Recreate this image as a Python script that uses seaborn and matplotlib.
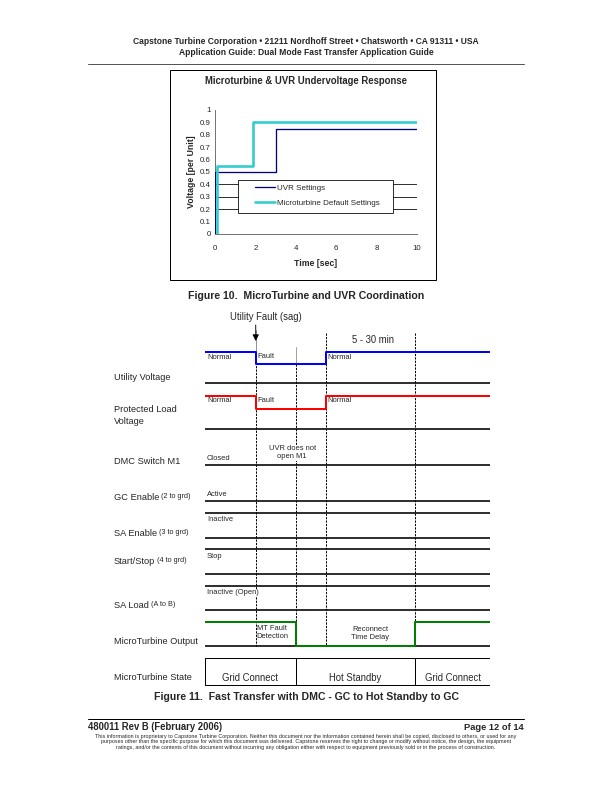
import matplotlib
matplotlib.use("Agg")
import matplotlib.pyplot as plt
import pandas as pd
import seaborn as sns
from matplotlib.patches import Rectangle

# ---- Figure 10 data: step responses (time in sec, voltage per unit)
uvr_time = [0.02, 0.02, 3.0, 3.0, 10.0]
uvr_volts = [0.0, 0.5, 0.5, 0.85, 0.85]
mt_time = [0.12, 0.12, 1.9, 1.9, 10.0]
mt_volts = [0.0, 0.55, 0.55, 0.9, 0.9]
series_names = ["UVR Settings", "Microturbine Default Settings"]
series_colors = ["#000080", "#33CCCC"]
grid_levels = [0.2, 0.3, 0.4]

# ---- Figure 11 timing data (schematic time units 0..10)
t_fault = 1.78
t_uvr = 3.18
t_restore = 4.24
t_reconnect = 7.37
t_end = 10.0
utility_t = [0, t_fault, t_restore, t_end]
utility_lvl = [1, 0, 1, 1]
load_t = [0, t_fault, t_restore, t_end]
load_lvl = [1, 0, 1, 1]
mtout_t = [0, t_uvr, t_reconnect, t_end]
mtout_lvl = [1, 0, 1, 1]
state_names = ["Grid Connect", "Hot Standby", "Grid Connect"]
state_edges = [0, t_uvr, t_reconnect, t_end]

row_labels = [("Utility Voltage", "", 377),
              ("Protected Load\nVoltage", "", 415.5),
              ("DMC Switch M1", "", 461),
              ("GC Enable", "(2 to grd)", 497),
              ("SA Enable", "(3 to grd)", 533),
              ("Start/Stop", "(4 to grd)", 561),
              ("SA Load", "(A to B)", 605),
              ("MicroTurbine Output", "", 642),
              ("MicroTurbine State", "", 678)]
# black rails of the diagram (page px)
rails = [383, 428.5, 465, 501, 513, 537.5, 549, 574, 585.5, 610, 646]

sns.set_style("white")
plt.rcParams["font.family"] = ["Liberation Sans", "DejaVu Sans"]

fig = plt.figure(figsize=(8.5, 11), dpi=72)
page = fig.add_axes([0, 0, 1, 1])
page.set_xlim(0, 612)
page.set_ylim(792, 0)
page.axis("off")

def fx(px):
    return px / 612.0

def fy(py):
    return 1 - py / 792.0

# header
page.text(306, 41.5, "Capstone Turbine Corporation \u2022 21211 Nordhoff Street \u2022 Chatsworth \u2022 CA 91311 \u2022 USA",
          ha="center", va="center", fontsize=8.5, fontweight="bold")
page.text(306, 52.5, "Application Guide: Dual Mode Fast Transfer Application Guide",
          ha="center", va="center", fontsize=8.5, fontweight="bold")
page.plot([88, 524], [64, 64], color="#555555", lw=1)

# ---- Figure 10 chart
page.add_patch(Rectangle((170, 70), 266, 210, fill=False, ec="black", lw=1))
page.text(306, 81.5, "Microturbine & UVR Undervoltage Response", ha="center", va="center",
          fontsize=9.5, fontweight="bold")
ax = fig.add_axes([fx(215), fy(234), fx(417) - fx(215), fy(110) - fy(234)])
for lvl in grid_levels:
    ax.axhline(lvl, color="black", lw=0.8, zorder=1)
df = pd.concat([
    pd.DataFrame({"t": uvr_time, "v": uvr_volts, "s": series_names[0]}),
    pd.DataFrame({"t": mt_time, "v": mt_volts, "s": series_names[1]}),
])
sns.lineplot(data=df[df.s == series_names[0]], x="t", y="v", sort=False, estimator=None,
             color=series_colors[0], lw=1.3, label=series_names[0], ax=ax, zorder=3)
sns.lineplot(data=df[df.s == series_names[1]], x="t", y="v", sort=False, estimator=None,
             color=series_colors[1], lw=2.6, label=series_names[1], ax=ax, zorder=3)
ax.set_xlim(0, 10)
ax.set_ylim(0, 1)
ax.set_xticks(range(0, 11, 2))
ax.set_yticks([i / 10 for i in range(11)])
ax.set_yticklabels(["0"] + ["0.%d" % i for i in range(1, 10)] + ["1"])
ax.tick_params(axis="both", labelsize=7.9, direction="out", length=2.5, width=0.8, color="#444444")
ax.tick_params(axis="y", pad=1.5)
ax.tick_params(axis="x", pad=9)
for s in ["top", "right"]:
    ax.spines[s].set_visible(False)
for s in ["left", "bottom"]:
    ax.spines[s].set_color("#666666")
    ax.spines[s].set_linewidth(0.9)
ax.set_xlabel("Time [sec]", fontsize=8.7, fontweight="bold", labelpad=6)
ax.set_ylabel("Voltage [per Unit]", fontsize=8.7, fontweight="bold", labelpad=4)
# legend box (Excel style) with a frameless legend inside
ax.add_patch(Rectangle((0.114, 0.169), 0.767, 0.266, transform=ax.transAxes, fc="white",
                       ec="black", lw=0.8, zorder=4))
leg = ax.legend(loc="center left", bbox_to_anchor=(0.198, 0.31), fontsize=8, frameon=False,
                handlelength=2.5, handletextpad=0.25, borderpad=0, borderaxespad=0,
                labelspacing=0.85)
leg.set_zorder(5)

page.text(306, 296, "Figure 10.  MicroTurbine and UVR Coordination", ha="center", va="center",
          fontsize=10.5, fontweight="bold")

# ---- Figure 11 timing diagram
td = fig.add_axes([fx(205), fy(690), fx(490) - fx(205), fy(300) - fy(690)])

for r in rails:
    td.plot([0, t_end], [r, r], color="black", lw=1.6, zorder=2)

def level_y(levels, hi, lo):
    return [hi if v else lo for v in levels]

sig = pd.DataFrame({"t": utility_t, "y": level_y(utility_lvl, 352.3, 364)})
sns.lineplot(data=sig, x="t", y="y", drawstyle="steps-post", estimator=None, sort=False,
             color="#0000FF", lw=2, ax=td, zorder=4)
sig = pd.DataFrame({"t": load_t, "y": level_y(load_lvl, 395.5, 408.5)})
sns.lineplot(data=sig, x="t", y="y", drawstyle="steps-post", estimator=None, sort=False,
             color="#FF0000", lw=2, ax=td, zorder=4)
sig = pd.DataFrame({"t": mtout_t, "y": level_y(mtout_lvl, 622.3, 645.5)})
sns.lineplot(data=sig, x="t", y="y", drawstyle="steps-post", estimator=None, sort=False,
             color="#008000", lw=2, ax=td, zorder=4)
td.set_xlim(0, t_end)
td.set_ylim(690, 300)
td.axis("off")

dash = (0, (2.2, 1.2))
td.plot([t_fault, t_fault], [330, 352], color="#888888", lw=0.9, zorder=1)
td.annotate("", xy=(t_fault, 343), xytext=(t_fault, 323),
            arrowprops=dict(arrowstyle="-|>", color="black", lw=0.9, mutation_scale=13))
td.plot([t_fault, t_fault], [352, 646], color="black", lw=1, ls=dash, zorder=1)
td.plot([t_uvr, t_uvr], [347, 364], color="#999999", lw=0.9, zorder=1)
td.plot([t_uvr, t_uvr], [364, 622], color="black", lw=1, ls=dash, zorder=1)
td.plot([t_restore, t_restore], [333, 646], color="black", lw=1, ls=dash, zorder=1)
td.plot([t_reconnect, t_reconnect], [333, 622], color="black", lw=1, ls=dash, zorder=1)

# state box
td.add_patch(Rectangle((0, 658), t_end, 27, fill=False, ec="black", lw=1, zorder=3))
for e in state_edges[1:-1]:
    td.plot([e, e], [658, 685], color="black", lw=1, zorder=3)
for i, name in enumerate(state_names):
    td.text((state_edges[i] + state_edges[i + 1]) / 2, 678, name, ha="center", va="center", fontsize=9.5)

small = 7.5
td.text(0.07, 357.5, "Normal", fontsize=small, va="center")
td.text(t_fault + 0.07, 356, "Fault", fontsize=small, va="center")
td.text(t_restore + 0.07, 357.5, "Normal", fontsize=small, va="center")
td.text(0.07, 400.5, "Normal", fontsize=small, va="center")
td.text(t_fault + 0.07, 400.5, "Fault", fontsize=small, va="center")
td.text(t_restore + 0.07, 400.5, "Normal", fontsize=small, va="center")
td.text((t_fault + t_restore) / 2 + 0.05, 453, "UVR does not\nopen M1", fontsize=small, ha="center",
        va="center", linespacing=1.2, zorder=5,
        bbox=dict(facecolor="white", edgecolor="none", pad=0.5))
td.text(0.07, 458, "Closed", fontsize=small, va="center")
td.text(0.07, 494, "Active", fontsize=small, va="center")
td.text(0.07, 519.5, "Inactive", fontsize=small, va="center")
td.text(0.07, 556, "Stop", fontsize=small, va="center")
td.text(0.07, 593, "Inactive (Open)", fontsize=small, va="center", zorder=5,
        bbox=dict(facecolor="white", edgecolor="none", pad=0.3))
td.text(t_fault + 0.03, 632.5, "MT Fault\nDetection", fontsize=small, va="center", linespacing=1.25)
td.text((t_restore + t_reconnect) / 2, 633.5, "Reconnect\nTime Delay", fontsize=small, ha="center",
        va="center", linespacing=1.25)
td.text((t_restore + t_reconnect) / 2 + 0.1, 340, "5 - 30 min", fontsize=9.5, ha="center", va="center")

page.text(266, 317, "Utility Fault (sag)", fontsize=9.5, ha="center", va="center")

for main, paren, y in row_labels:
    t = page.text(114, y, main, fontsize=9.3, va="center", linespacing=1.3)
    if paren:
        page.annotate(" " + paren, xy=(1, 0.5), xycoords=t, fontsize=7.2, va="center")

page.text(306, 697, "Figure 11.  Fast Transfer with DMC - GC to Hot Standby to GC", ha="center",
          va="center", fontsize=10.5, fontweight="bold")

# footer
page.plot([88, 524], [719, 719], color="black", lw=1)
page.text(88, 727, "480011 Rev B (February 2006)", fontsize=9.5, fontweight="bold", va="center")
page.text(524, 727, "Page 12 of 14", fontsize=9.2, fontweight="bold", va="center", ha="right")
fine = ("This information is proprietary to Capstone Turbine Corporation. Neither this document nor the information contained herein shall be copied, disclosed to others, or used for any\n"
        "purposes other than the specific purpose for which this document was delivered. Capstone reserves the right to change or modify without notice, the design, the equipment\n"
        "ratings, and/or the contents of this document without incurring any obligation either with respect to equipment previously sold or in the process of construction.")
page.text(306, 742, fine, fontsize=5.4, ha="center", va="center", linespacing=1.15)

fig.savefig("out.png", dpi=72)
